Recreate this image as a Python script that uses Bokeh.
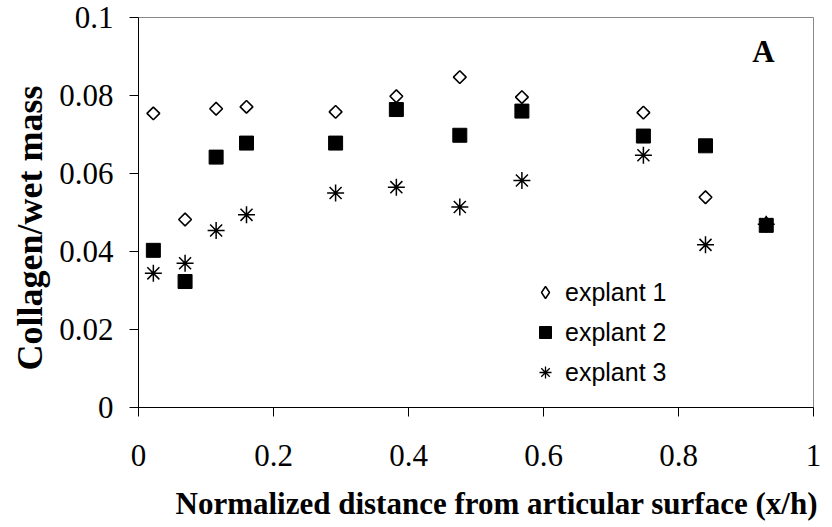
import numpy as np
from bokeh.plotting import figure
from bokeh.models import Range1d, FixedTicker, CustomJSTickFormatter, Legend, LegendItem, Label, Title
from bokeh.embed import file_html
from bokeh.resources import INLINE

x_pos = [0.022, 0.069, 0.115, 0.160, 0.292, 0.382, 0.476, 0.568, 0.748, 0.840, 0.930]
explant1 = [0.0754, 0.0482, 0.0766, 0.0771, 0.0758, 0.0798, 0.0847, 0.0796, 0.0756, 0.0539, 0.0472]
explant2 = [0.0403, 0.0323, 0.0642, 0.0678, 0.0678, 0.0764, 0.0698, 0.0760, 0.0696, 0.0671, 0.0467]
explant3 = [0.0344, 0.0370, 0.0454, 0.0494, 0.0550, 0.0565, 0.0514, 0.0582, 0.0647, 0.0417, 0.0470]
series_names = ["explant 1", "explant 2", "explant 3"]
x_ticks = [0, 0.2, 0.4, 0.6, 0.8, 1.0]
y_ticks = [0, 0.02, 0.04, 0.06, 0.08, 0.1]
x_title = "Normalized distance from articular surface (x/h)"
y_title = "Collagen/wet mass"
panel_tag = "A"

p = figure(width=832, height=527, output_backend="svg", toolbar_location=None,
           x_range=Range1d(0, 1), y_range=Range1d(0, 0.1),
           min_border_left=138, min_border_right=19, min_border_top=17, min_border_bottom=120)
p.background_fill_color = "white"
p.border_fill_color = "white"
p.outline_line_color = "#888888"
p.outline_line_width = 1
p.xgrid.visible = False
p.ygrid.visible = False

for ax, ticks, fmt in ((p.xaxis[0], x_ticks, 1), (p.yaxis[0], y_ticks, 2)):
    ax.ticker = FixedTicker(ticks=ticks)
    ax.formatter = CustomJSTickFormatter(code=f"""
        let s = tick.toFixed({fmt});
        if (s.indexOf('.') >= 0) {{ s = s.replace(/0+$/, '').replace(/\\.$/, ''); }}
        return s;""")
    ax.minor_tick_line_color = None
    ax.major_tick_in = 0
    ax.major_tick_out = 9
    ax.axis_line_color = "black"
    ax.major_tick_line_color = "black"
    ax.major_label_text_font = "Liberation Serif"
    ax.major_label_text_font_size = "31px"
    ax.major_label_text_color = "black"

p.xaxis.major_label_standoff = 28
p.yaxis.major_label_standoff = 16
# small blank spacer below the x tick labels so the title sits lower
p.xaxis.axis_label = " "
p.xaxis.axis_label_text_font_size = "1px"
p.xaxis.axis_label_standoff = 11

# axis titles as side titles (allow an offset along the axis, like the reference)
p.add_layout(Title(text=x_title, align="left", offset=37, standoff=4, vertical_align="top",
                   text_font="Liberation Serif", text_font_style="bold", text_font_size="31px",
                   text_color="black"), "below")
p.add_layout(Title(text=y_title, align="left", offset=37, standoff=14,
                   text_font="Liberation Serif", text_font_style="bold", text_font_size="36px",
                   text_color="black"), "left")

r1 = p.scatter(x_pos, explant1, marker="square", angle=0.785398, size=9,
               fill_color="white", line_color="black", line_width=1.6)
r2 = p.scatter(x_pos, explant2, marker="square", size=14,
               fill_color="black", line_color="black")
r3 = p.scatter(x_pos, explant3, marker="asterisk", size=17,
               line_color="black", line_width=1.5)

# legend-only glyphs (no visible data)
nan = np.array([np.nan])
l1 = p.scatter(nan, nan, marker="diamond", fill_color="white", line_color="black", line_width=1.5)
l2 = p.scatter(nan, nan, marker="square", fill_color="black", line_color="black")
l3 = p.scatter(nan, nan, marker="asterisk", line_color="black", line_width=1.3)

legend = Legend(items=[LegendItem(label=series_names[0], renderers=[l1]),
                       LegendItem(label=series_names[1], renderers=[l2]),
                       LegendItem(label=series_names[2], renderers=[l3])],
                location=(392, 20), padding=0, margin=0, spacing=10,
                glyph_width=30, glyph_height=30, label_height=30, label_standoff=5,
                border_line_alpha=0, background_fill_alpha=0,
                label_text_font="Liberation Sans", label_text_font_size="25px",
                label_text_color="black")
p.add_layout(legend, "center")

p.add_layout(Label(x=0.926, y=0.0912, text=panel_tag, text_font="Liberation Serif",
                   text_font_style="bold", text_font_size="31px",
                   text_align="center", text_baseline="middle", text_color="black"))

open("out.html", "w").write(file_html(p, INLINE))
